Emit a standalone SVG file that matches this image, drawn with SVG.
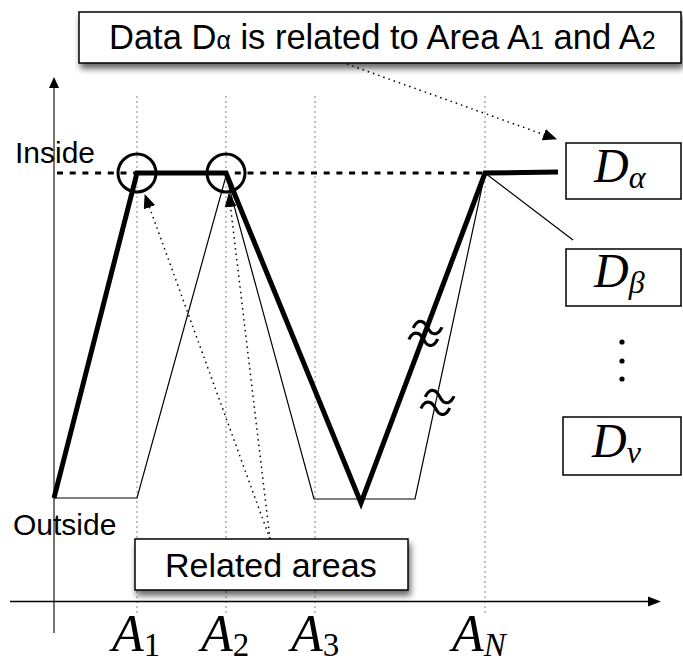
<svg xmlns="http://www.w3.org/2000/svg" width="683" height="662" viewBox="0 0 683 662">
<defs>
<filter id="shadow" x="-10%" y="-20%" width="120%" height="160%">
<feGaussianBlur in="SourceAlpha" stdDeviation="3"/>
<feOffset dx="2" dy="5" result="b"/>
<feComponentTransfer><feFuncA type="linear" slope="0.6"/></feComponentTransfer>
<feMerge><feMergeNode/><feMergeNode in="SourceGraphic"/></feMerge>
</filter>
<marker id="arr" markerUnits="userSpaceOnUse" markerWidth="14" markerHeight="12" viewBox="0 0 14 12" refX="13" refY="6" orient="auto">
<path d="M0,0 L14,6 L0,12 Z" fill="#000"/>
</marker>
</defs>
<style>
.sans{font-family:"Liberation Sans",Arial,sans-serif;fill:#000}
.math{font-family:"Liberation Serif","Times New Roman",serif;font-style:italic;fill:#000}
.up{font-style:normal}
.grid{stroke:#999;stroke-width:1.2;stroke-dasharray:2,3;fill:none}
.box{fill:#fff;stroke:#000;stroke-width:1.5}
.dot{stroke:#000;stroke-width:1.5;stroke-dasharray:1.5,4;fill:none}
</style>
<rect width="683" height="662" fill="#fff"/>

<g id="grid">
<line class="grid" x1="137" y1="96" x2="137" y2="615"/>
<line class="grid" x1="226" y1="96" x2="226" y2="615"/>
<line class="grid" x1="315" y1="96" x2="315" y2="615"/>
<line class="grid" x1="485" y1="96" x2="485" y2="615"/>
</g>

<g id="axes">
<line x1="54" y1="633" x2="54" y2="86" stroke="#444" stroke-width="1.5"/>
<path d="M54,77 L59,88 L49,88 Z" fill="#000"/>
<line x1="10" y1="601.5" x2="649" y2="601.5" stroke="#000" stroke-width="1.5"/>
<path d="M661,601.5 L648,596.5 L648,606.5 Z" fill="#000"/>
</g>

<g id="inside-level">
<line x1="57" y1="173" x2="485" y2="173" stroke="#000" stroke-width="3" stroke-dasharray="6,6.7"/>
</g>

<g id="curves">
<path d="M54,498 L137,498 L226,176 L314,499 L415,499 L485,173 L573,240" fill="none" stroke="#000" stroke-width="1.2"/>
<path d="M54,498 L137,173 L226,173 L361,503 L485,173 L558,172" fill="none" stroke="#000" stroke-width="5" stroke-linejoin="miter"/>
<circle cx="137" cy="173" r="19" fill="none" stroke="#000" stroke-width="3"/>
<circle cx="226" cy="173" r="19" fill="none" stroke="#000" stroke-width="3"/>
<text class="math up" x="426" y="333" font-size="62" text-anchor="middle" dominant-baseline="central" transform="rotate(20 426 333)">≈</text>
<text class="math up" x="438" y="402" font-size="62" text-anchor="middle" dominant-baseline="central" transform="rotate(20 438 402)">≈</text>
</g>

<g id="connectors">
<line class="dot" x1="347" y1="64" x2="556" y2="139" marker-end="url(#arr)"/>
<line class="dot" x1="270" y1="539" x2="145" y2="195" marker-end="url(#arr)"/>
<line class="dot" x1="270" y1="539" x2="229" y2="194" marker-end="url(#arr)"/>
</g>

<g id="label-top">
<rect class="box" x="79" y="12" width="602" height="51" filter="url(#shadow)"/>
<text class="sans" x="109" y="49" font-size="34.5">Data D<tspan font-size="25">α</tspan> is related to Area A<tspan font-size="25">1</tspan> and A<tspan font-size="25">2</tspan></text>
</g>

<g id="label-related">
<rect class="box" x="135" y="539" width="273" height="51" filter="url(#shadow)"/>
<text class="sans" x="165" y="577" font-size="34">Related areas</text>
</g>

<g id="label-inside"><text class="sans" x="15" y="163" font-size="30">Inside</text></g>
<g id="label-outside"><text class="sans" x="13" y="535" font-size="30">Outside</text></g>

<g id="D-alpha">
<rect class="box" x="566" y="143" width="115" height="56"/>
<text class="math" x="594" y="182" font-size="48">D<tspan font-size="32" dy="6">α</tspan></text>
</g>
<g id="D-beta">
<rect class="box" x="566" y="249" width="115" height="57"/>
<text class="math" x="594" y="287" font-size="48">D<tspan font-size="32" dy="6">β</tspan></text>
</g>
<g id="ellipsis">
<circle cx="622" cy="342" r="2.6"/>
<circle cx="622" cy="361" r="2.6"/>
<circle cx="622" cy="379" r="2.6"/>
</g>
<g id="D-nu">
<rect class="box" x="563" y="417" width="118" height="58"/>
<text class="math" x="592" y="457" font-size="48">D<tspan font-size="32" dy="6">ν</tspan></text>
</g>

<g id="A1"><text class="math" x="112" y="651" font-size="52">A<tspan class="up" font-size="33" dy="5">1</tspan></text></g>
<g id="A2"><text class="math" x="201" y="651" font-size="52">A<tspan class="up" font-size="33" dy="5">2</tspan></text></g>
<g id="A3"><text class="math" x="291" y="651" font-size="52">A<tspan class="up" font-size="33" dy="5">3</tspan></text></g>
<g id="AN"><text class="math" x="452" y="651" font-size="52">A<tspan font-size="33" dy="5">N</tspan></text></g>
</svg>
